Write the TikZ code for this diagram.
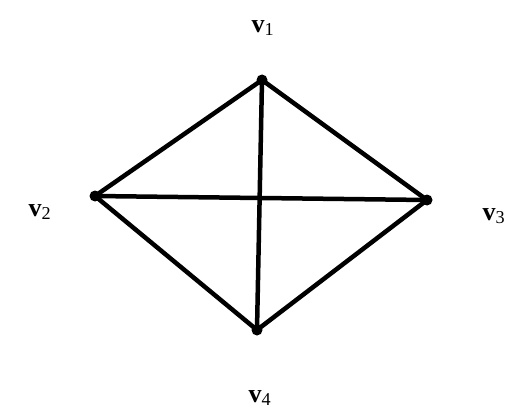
\documentclass[tikz,border=0pt]{standalone}
\usepackage{fontspec}
\setmainfont{Liberation Serif}
\begin{document}
\begin{tikzpicture}[x=1pt,y=-1pt,
  vert/.style={circle,fill=black,inner sep=0pt,minimum size=11pt},
  edge/.style={line width=4.5pt},
  lbl/.style={font=\fontsize{26}{30}\selectfont,inner sep=0pt}]
\useasboundingbox (0,0) rectangle (508,414);
\node[vert] (v1) at (262,80) {};
\node[vert] (v2) at (95,196) {};
\node[vert] (v3) at (427,200) {};
\node[vert] (v4) at (257,330) {};
\draw[edge] (v1.center) -- (v2.center) -- (v4.center) -- (v3.center) -- (v1.center) -- (v4.center);
\draw[edge] (v2.center) -- (v3.center);
\node[lbl] (l1) at (263,28) {\textbf{v}\textsubscript{1}};
\node[lbl] (l2) at (40,212) {\textbf{v}\textsubscript{2}};
\node[lbl] (l3) at (494,216) {\textbf{v}\textsubscript{3}};
\node[lbl] (l4) at (260,398) {\textbf{v}\textsubscript{4}};
\end{tikzpicture}
\end{document}
